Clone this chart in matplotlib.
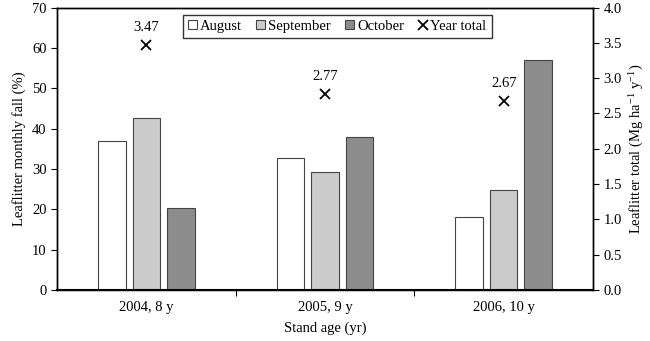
import numpy as np
import matplotlib
matplotlib.use("Agg")
import matplotlib.pyplot as plt

plt.rcParams['font.family'] = ['Liberation Serif', 'DejaVu Serif']
plt.rcParams['mathtext.fontset'] = 'custom'
plt.rcParams['mathtext.rm'] = 'Liberation Serif'
plt.rcParams['mathtext.it'] = 'Liberation Serif:italic'
FS = 10.5

stands = ['2004, 8 y', '2005, 9 y', '2006, 10 y']
august = [37.0, 32.8, 18.1]
september = [42.7, 29.3, 24.9]
october = [20.2, 37.9, 56.9]
year_total = [3.47, 2.77, 2.67]

fig = plt.figure(figsize=(6.5, 3.41), dpi=100)
ax = fig.add_axes([0.0877, 0.1496, 0.8246, 0.8284])
ax2 = ax.twinx()

x = np.arange(len(stands))
step = 0.193
width = 0.154
b1 = ax.bar(x - step, august, width, color='white', edgecolor='#444444', linewidth=0.8)
b2 = ax.bar(x, september, width, color='#cccccc', edgecolor='#444444', linewidth=0.8)
b3 = ax.bar(x + step, october, width, color='#8c8c8c', edgecolor='#444444', linewidth=0.8)

pts, = ax2.plot(x, year_total, linestyle='none', marker='x', color='black',
                markersize=7, markeredgewidth=1.3)
for xi, v in zip(x, year_total):
    ax2.annotate(f'{v:.2f}', (xi, v), xytext=(0, 8), textcoords='offset points',
                 ha='center', va='bottom', fontsize=FS)

ax.set_xlim(-0.5, 2.5)
ax.set_ylim(0, 70)
ax2.set_ylim(0, 4.0)
ax.set_yticks(np.arange(0, 71, 10))
ax2.set_yticks(np.arange(0, 4.01, 0.5))
ax2.set_yticklabels([f'{t:.1f}' for t in np.arange(0, 4.01, 0.5)])

# category labels centred, tick marks on the group boundaries
ax.set_xticks([0.5, 1.5], minor=False)
ax.set_xticklabels([])
ax.set_xticks(x, minor=True)
ax.set_xticklabels(stands, minor=True)
ax.tick_params(axis='x', which='minor', length=0, pad=8, labelsize=FS)
ax.tick_params(axis='x', which='major', length=4, direction='out')
ax.tick_params(axis='y', length=4, direction='out', labelsize=FS)
ax2.tick_params(axis='y', length=4, direction='out', labelsize=FS)

for a in (ax, ax2):
    for s in a.spines.values():
        s.set_linewidth(1.0)
ax.spines['bottom'].set_linewidth(1.5)

ax.set_xlabel('Stand age (yr)', fontsize=FS, labelpad=5)
ax.set_ylabel('Leaflitter monthly fall (%)', fontsize=FS)
ax2.set_ylabel(r'Leaflitter total (Mg ha$^{\mathrm{-1}}$ y$^{\mathrm{-1}}$)', fontsize=FS)

leg = ax2.legend([b1, b2, b3, pts], ['August', 'September', 'October', 'Year total'],
                 ncol=4, loc='upper center', bbox_to_anchor=(0.523, 0.985),
                 fontsize=FS, frameon=True, fancybox=False, handlelength=0.6,
                 handleheight=0.6, handletextpad=0.2, columnspacing=1.0,
                 borderpad=0.35, borderaxespad=0.2)
leg.get_frame().set_edgecolor('black')
leg.get_frame().set_linewidth(1.0)

fig.savefig('out.png', dpi=100)
